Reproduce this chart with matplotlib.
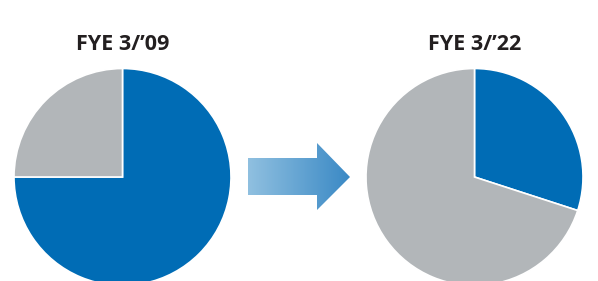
import matplotlib.pyplot as plt
import numpy as np
from matplotlib.patches import Polygon
from matplotlib.colors import LinearSegmentedColormap

titles = ["FYE 3/\u201909", "FYE 3/\u201922"]
segments = ["Blue", "Gray"]
shares_09 = [75, 25]
shares_22 = [30, 70]
colors = ["#006CB5", "#B2B6B9"]

fig = plt.figure(figsize=(5.98, 2.81), dpi=100)
ax = fig.add_axes([0, 0, 1, 1])

centers = [(122.5, 104), (474.5, 104)]
radius = 108.5

for shares, title, c in zip([shares_09, shares_22], titles, centers):
    ax.pie(shares, colors=colors, startangle=90, counterclock=False,
           center=c, radius=radius,
           wedgeprops=dict(edgecolor="white", linewidth=1.2))
    ax.text(c[0], 237, title, ha="center", va="center", fontsize=15.5,
            fontweight="bold", color="#231F20", family="Open Sans")

# gradient arrow
verts = [(248, 123), (317, 123), (317, 138), (350, 104),
         (317, 71), (317, 86), (248, 86)]
arrow = Polygon(verts, closed=True, facecolor="none", edgecolor="none")
ax.add_patch(arrow)
cmap = LinearSegmentedColormap.from_list("arr", ["#90C0E0", "#3A89C5"])
grad = np.linspace(0, 1, 256).reshape(1, -1)
im = ax.imshow(grad, cmap=cmap, extent=[248, 350, 71, 138], aspect="auto",
               interpolation="bilinear")
im.set_clip_path(arrow)

ax.set_xlim(0, 598)
ax.set_ylim(0, 281)
ax.set_aspect("auto")
ax.axis("off")

fig.savefig("out.png", dpi=100)
